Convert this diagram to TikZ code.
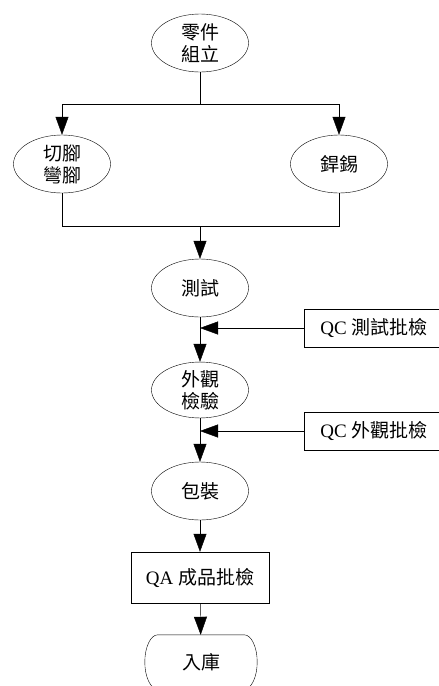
\documentclass[tikz,border=0pt]{standalone}
\usepackage{fontspec}
\setmainfont{Liberation Serif}
\newfontfamily\cjk{Noto Sans CJK TC}
\usetikzlibrary{arrows.meta,shapes.geometric,calc}
\tikzset{
  ell/.style={draw,ellipse,minimum width=97pt,minimum height=58pt,inner sep=0pt,align=center,font=\fontsize{19pt}{22pt}\selectfont},
  qbox/.style={draw,rectangle,minimum width=140pt,minimum height=38pt,inner sep=0pt,font=\fontsize{19pt}{22pt}\selectfont},
  term/.style={rectangle,minimum width=112pt,minimum height=54pt,inner sep=0pt,font=\fontsize{19pt}{22pt}\selectfont},
  arr/.style={-{Triangle[length=18pt,width=13pt]}},
  line width=0.8pt
}
\begin{document}
\begin{tikzpicture}[x=1pt,y=-1pt]
\useasboundingbox (0,0) rectangle (439,686);
\node[ell] (a) at (200,43) {\cjk 零件\\\cjk 組立};
\node[ell] (b) at (62,164) {\cjk 切腳\\\cjk 彎腳};
\node[ell] (c) at (339,164) {\cjk 銲錫};
\node[ell] (d) at (200,288) {\cjk 測試};
\node[qbox] (q1) at (374,328) {QC {\cjk 測試批檢}};
\node[ell,minimum height=53pt] (e) at (200,390) {\cjk 外觀\\\cjk 檢驗};
\node[qbox] (q2) at (374,431) {QC {\cjk 外觀批檢}};
\node[ell] (f) at (200,491) {\cjk 包裝};
\node[qbox,minimum width=138pt,minimum height=51pt] (g) at (200,577.5) {QA {\cjk 成品批檢}};
\node[term] (h) at (201,662) {\cjk 入庫};
\draw ($(h.north west)+(13,0)$) -- ($(h.north east)+(-13,0)$)
  .. controls ($(h.north east)+(-5.8,0)$) and ($(h.east)+(0,-14.9)$) .. (h.east)
  .. controls ($(h.east)+(0,14.9)$) and ($(h.south east)+(-5.8,0)$) .. ($(h.south east)+(-13,0)$)
  -- ($(h.south west)+(13,0)$)
  .. controls ($(h.south west)+(5.8,0)$) and ($(h.west)+(0,14.9)$) .. (h.west)
  .. controls ($(h.west)+(0,-14.9)$) and ($(h.north west)+(5.8,0)$) .. ($(h.north west)+(13,0)$) -- cycle;
\coordinate (j1) at (200,104);
\coordinate (j2) at (200,226);
\coordinate (m1) at (200,328);
\coordinate (m2) at (200,431);
\draw (a) -- (j1);
\draw[arr] (j1) -| (b);
\draw[arr] (j1) -| (c);
\draw (b) |- (j2);
\draw (c) |- (j2);
\draw[arr] (j2) -- (d);
\draw[arr] (d) -- (e);
\draw[arr] (q1) -- (m1);
\draw[arr] (e) -- (f);
\draw[arr] (q2) -- (m2);
\draw[arr] (f) -- (g);
\draw[arr] (g) -- (h);
\end{tikzpicture}
\end{document}
